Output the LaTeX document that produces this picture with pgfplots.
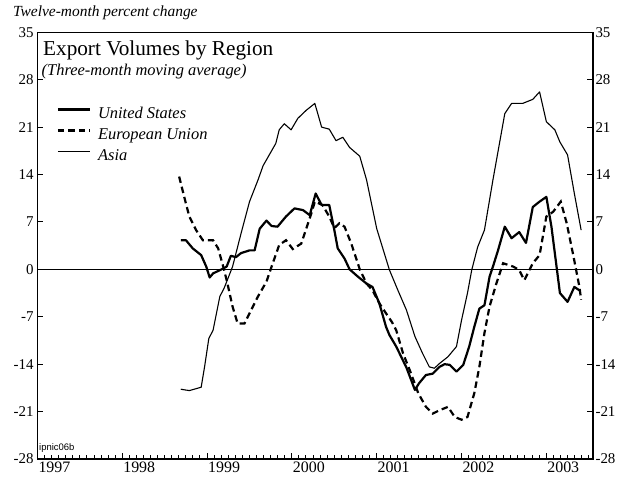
\documentclass[border=0pt]{standalone}
\usepackage{fontspec}
\setmainfont{Liberation Serif}
\setsansfont{Liberation Sans}
\usepackage{pgfplots}
\pgfplotsset{compat=1.18}

\pgfplotstableread{
t y
1998.69 4.3
1998.75 4.3
1998.83 3.1
1998.93 2.1
1998.99 0.4
1999.03 -1.2
1999.07 -0.6
1999.17 0.0
1999.23 0.4
1999.28 2.0
1999.34 1.8
1999.40 2.4
1999.50 2.8
1999.56 2.8
1999.62 6.0
1999.70 7.2
1999.76 6.4
1999.83 6.3
1999.93 7.8
2000.03 9.0
2000.13 8.75
2000.21 8.0
2000.28 11.2
2000.35 9.5
2000.44 9.5
2000.50 5.8
2000.54 3.1
2000.62 1.6
2000.68 0.0
2000.78 -1.1
2000.88 -2.1
2000.95 -2.6
2001.03 -5.0
2001.11 -8.5
2001.15 -9.7
2001.23 -11.4
2001.35 -14.5
2001.45 -17.8
2001.50 -16.8
2001.58 -15.6
2001.66 -15.4
2001.74 -14.4
2001.80 -14.0
2001.86 -14.1
2001.94 -15.1
2002.02 -14.1
2002.09 -11.4
2002.15 -8.5
2002.21 -5.8
2002.27 -5.3
2002.33 -1.1
2002.37 0.4
2002.43 2.8
2002.51 6.3
2002.59 4.6
2002.68 5.5
2002.76 3.9
2002.84 9.2
2002.92 10.0
2003.00 10.7
2003.06 6.3
2003.16 -3.5
2003.25 -4.8
2003.33 -2.6
2003.39 -3.1
}\usdata

\pgfplotstableread{
t y
1998.67 13.7
1998.73 10.7
1998.79 7.8
1998.87 5.8
1998.95 4.3
1999.07 4.3
1999.13 3.1
1999.19 0.4
1999.24 -2.1
1999.30 -5.5
1999.36 -8.0
1999.44 -8.0
1999.52 -6.0
1999.60 -4.0
1999.70 -1.8
1999.76 0.4
1999.85 3.6
1999.93 4.3
2000.01 3.0
2000.11 3.8
2000.19 6.8
2000.23 8.3
2000.27 10.0
2000.36 9.5
2000.44 7.8
2000.50 6.1
2000.56 6.8
2000.62 6.3
2000.70 3.8
2000.80 0.0
2000.88 -2.1
2000.95 -3.1
2001.03 -5.0
2001.11 -6.5
2001.18 -7.8
2001.23 -9.0
2001.31 -12.4
2001.39 -14.9
2001.49 -18.3
2001.58 -20.3
2001.66 -21.3
2001.74 -20.8
2001.84 -20.3
2001.92 -21.8
2002.00 -22.2
2002.07 -21.8
2002.15 -18.3
2002.21 -14.4
2002.27 -9.4
2002.33 -5.5
2002.41 -2.1
2002.49 0.9
2002.61 0.4
2002.68 -0.1
2002.74 -1.6
2002.84 0.9
2002.92 2.1
2003.00 7.8
2003.08 8.5
2003.17 10.0
2003.24 6.8
2003.32 1.9
2003.39 -2.6
2003.41 -4.5
}\eudata

\pgfplotstableread{
t y
1998.69 -17.7
1998.79 -17.9
1998.93 -17.4
1998.97 -14.4
1999.02 -10.2
1999.07 -9.0
1999.15 -4.0
1999.20 -2.8
1999.30 0.4
1999.40 5.3
1999.50 10.0
1999.60 13.2
1999.66 15.3
1999.81 18.6
1999.85 20.6
1999.91 21.5
1999.99 20.6
2000.07 22.3
2000.17 23.5
2000.27 24.5
2000.35 21.0
2000.44 20.7
2000.52 19.0
2000.60 19.5
2000.68 18.0
2000.80 16.7
2000.88 13.2
2001.00 6.0
2001.15 -0.1
2001.25 -3.1
2001.35 -6.0
2001.45 -9.9
2001.54 -12.4
2001.62 -14.4
2001.68 -14.6
2001.74 -13.9
2001.84 -12.9
2001.94 -11.4
2002.00 -7.5
2002.07 -3.5
2002.12 -0.1
2002.19 3.3
2002.27 5.8
2002.37 13.2
2002.51 23.0
2002.59 24.5
2002.72 24.5
2002.84 25.1
2002.92 26.2
2003.00 21.8
2003.10 20.6
2003.16 18.8
2003.25 16.9
2003.33 11.2
2003.41 5.8
}\asiadata

\begin{document}
\begin{tikzpicture}
\pgfplotsset{
  common/.style={
    scale only axis, width=555.5bp, height=426.7bp,
    xmin=1997, xmax=2003.55, ymin=-28, ymax=35,
    ytick={-28,-21,...,35},
    tick align=inside,
    major tick length=6bp, minor tick length=4bp,
    axis line style={line width=1.2bp},
    every tick/.style={black, line width=1bp},
    /pgf/number format/assume math mode=true,
    /pgf/number format/set thousands separator={},
    yticklabel style={font=\fontsize{15}{17}\selectfont},
    xticklabel style={font=\fontsize{16}{18}\selectfont},
  }
}
\begin{axis}[common,
  name=main,
  xtick={1997,...,2003},
  minor xtick={1997,1997.08333,...,2003.55},
  xtick pos=bottom,
  ytick pos=both,
  yticklabel pos=left,
  xticklabel style={anchor=north west, xshift=-2.5bp, yshift=1bp},
  yticklabel style={xshift=-0.5bp},
  legend style={draw=none, fill=none, at={(axis description cs:0.0345,0.829)}, anchor=north west,
    font=\fontsize{16.5}{19}\itshape, row sep=4.5bp, inner sep=0pt,
    nodes={inner sep=2bp}},
  legend cell align=left,
  legend image code/.code={\draw[#1] (0bp,4.5bp) -- (32bp,4.5bp); \path (37bp,4.5bp);},
]
\addplot[black, line width=2.2bp, line join=round] table[x=t,y=y] {\usdata};
\addlegendentry{United States}
\addplot[black, line width=2.2bp, dash pattern=on 6.5bp off 4bp] table[x=t,y=y] {\eudata};
\addlegendentry{European Union}
\addplot[black, line width=1.1bp, line join=round] table[x=t,y=y] {\asiadata};
\addlegendentry{Asia}
\draw[black, line width=0.9bp] (axis cs:1997,0) -- (axis cs:2003.55,0);
\end{axis}
\begin{axis}[common,
  xtick=\empty,
  ytick pos=right,
  yticklabel pos=right,
  ytick style={draw=none},
  yticklabel style={anchor=west, xshift=-1bp},
]
\end{axis}
\node[anchor=base west, inner sep=0pt, font=\fontsize{21.3}{24}\selectfont] at ([xshift=5.5bp,yshift=-23.7bp]main.north west) {Export Volumes by Region};
\node[anchor=base west, inner sep=0pt, font=\fontsize{16.5}{19}\itshape] at ([xshift=4bp,yshift=-43bp]main.north west) {(Three-month moving average)};
\node[anchor=base west, inner sep=0pt, font=\fontsize{15.5}{18}\itshape] at ([xshift=-24.5bp,yshift=15.8bp]main.north west) {Twelve-month percent change};
\node[anchor=south west, inner sep=0pt, font=\sffamily\fontsize{9.5}{10}\selectfont] at ([xshift=1.5bp,yshift=6bp]main.south west) {ipnic06b};
\pgfresetboundingbox
\path[use as bounding box] ([xshift=-37.5bp,yshift=-26bp]main.south west) rectangle ++(625bp,485bp);
\end{tikzpicture}
\end{document}
